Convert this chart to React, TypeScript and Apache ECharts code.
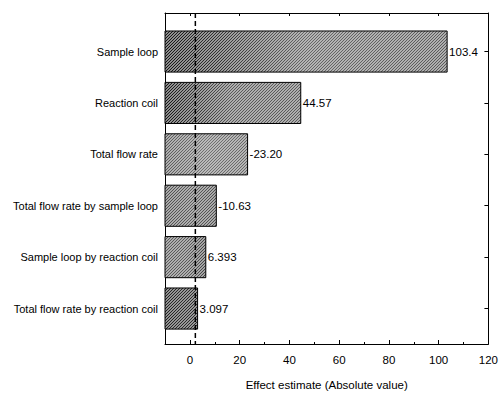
import React, { useEffect, useRef } from "react";
import * as echarts from "echarts";

const categories = [
  "Sample loop",
  "Reaction coil",
  "Total flow rate",
  "Total flow rate by sample loop",
  "Sample loop by reaction coil",
  "Total flow rate by reaction coil",
];
const effects = [103.4, 44.57, -23.2, -10.63, 6.393, 3.097];
const effectLabels = ["103.4", "44.57", "-23.20", "-10.63", "6.393", "3.097"];
const xTicks = [0, 20, 40, 60, 80, 100, 120];
const xMinorTicks = [10, 30, 50, 70, 90, 110];
const criticalValue = 2.2;
const xMin = -10;
const xMax = 120;

// style only: white overlay alpha at left, middle, right of each bar
const barTones = [
  [0.0, 0.35, 0.3],
  [0.0, 0.3, 0.3],
  [0.3, 0.4, 0.35],
  [0.25, 0.3, 0.25],
  [0.3, 0.3, 0.2],
  [0.05, 0.1, 0.1],
];

const FONT = '"Liberation Sans", Arial, sans-serif';

function makeHatch(bg: string, fg: string) {
  const s = 3;
  const c = document.createElement("canvas");
  c.width = s;
  c.height = s;
  const ctx = c.getContext("2d")!;
  ctx.fillStyle = bg;
  ctx.fillRect(0, 0, s, s);
  ctx.fillStyle = fg;
  for (let x = 0; x < s; x++)
    for (let y = 0; y < s; y++) if ((x + y) % s === s - 1) ctx.fillRect(x, y, 1, 1);
  return { image: c.toDataURL(), repeat: "repeat", imageWidth: s, imageHeight: s } as any;
}

export default function App() {
  const ref = useRef<HTMLDivElement>(null);
  useEffect(() => {
    const chart = echarts.init(ref.current!, undefined, { renderer: "svg" });
    const hatch = makeHatch("#8c8c8c", "#141414");
    const yPos = categories.map((_, i) => i + 1);
    const ticksY = { customValues: yPos };
    const option: any = {
      animation: false,
      backgroundColor: "#fff",
      textStyle: { fontFamily: FONT },
      grid: { left: 165, right: 9, top: 13, bottom: 39, containLabel: false },
      xAxis: [
        {
          type: "value",
          position: "bottom",
          min: xMin,
          max: xMax,
          splitLine: { show: false },
          axisLine: { show: true, onZero: false, lineStyle: { color: "#000", width: 1 } },
          axisTick: { show: true, inside: true, length: 4, customValues: xTicks, lineStyle: { color: "#000" } },
          axisLabel: {
            customValues: xTicks,
            color: "#000",
            fontSize: 11.5,
            fontFamily: FONT,
            margin: 10,
            showMaxLabel: true,
          },
          name: "Effect estimate (Absolute value)",
          nameLocation: "middle",
          nameGap: 35,
          nameTextStyle: { color: "#000", fontSize: 11.5, fontFamily: FONT },
        },
        {
          type: "value",
          position: "top",
          min: xMin,
          max: xMax,
          splitLine: { show: false },
          axisLine: { show: true, onZero: false, lineStyle: { color: "#000", width: 1 } },
          axisTick: { show: true, inside: true, length: 3, customValues: xTicks, lineStyle: { color: "#000" } },
          axisLabel: { show: false },
        },
        {
          type: "value",
          position: "bottom",
          min: xMin,
          max: xMax,
          splitLine: { show: false },
          axisLine: { show: false, onZero: false },
          axisTick: { show: true, inside: true, length: 2, customValues: xMinorTicks, lineStyle: { color: "#000" } },
          axisLabel: { show: false },
        },
      ],
      yAxis: [
        {
          type: "value",
          position: "left",
          inverse: true,
          min: 0.25,
          max: 6.69,
          splitLine: { show: false },
          axisLine: { show: true, onZero: false, lineStyle: { color: "#000", width: 1 } },
          axisTick: { show: true, inside: true, length: 3, ...ticksY, lineStyle: { color: "#000" } },
          axisLabel: {
            customValues: yPos,
            formatter: (v: number) => categories[Math.round(v) - 1] ?? "",
            color: "#000",
            fontSize: 11,
            fontFamily: FONT,
            margin: 7,
          },
        },
        {
          type: "value",
          position: "right",
          inverse: true,
          min: 0.25,
          max: 6.69,
          splitLine: { show: false },
          axisLine: { show: true, onZero: false, lineStyle: { color: "#000", width: 1 } },
          axisTick: { show: true, inside: true, length: 4, ...ticksY, lineStyle: { color: "#000" } },
          axisLabel: { show: false },
        },
      ],
      series: [
        {
          type: "custom",
          xAxisIndex: 0,
          yAxisIndex: 0,
          z: 2,
          data: effects.map((e, i) => [Math.abs(e), i + 1, i]),
          renderItem: (params: any, api: any) => {
            const v = api.value(0);
            const y = api.value(1);
            const idx = api.value(2);
            const start = api.coord([xMin, y]);
            const end = api.coord([v, y]);
            const h = api.size([0, 0.8])[1];
            const shape = { x: start[0], y: start[1] - h / 2, width: end[0] - start[0], height: h };
            const t = barTones[idx];
            const grad = new echarts.graphic.LinearGradient(0, 0, 1, 0, [
              { offset: 0, color: `rgba(255,255,255,${t[0]})` },
              { offset: 0.5, color: `rgba(255,255,255,${t[1]})` },
              { offset: 1, color: `rgba(255,255,255,${t[2]})` },
            ]);
            return {
              type: "group",
              children: [
                { type: "rect", shape, style: { fill: hatch } },
                { type: "rect", shape, style: { fill: grad, stroke: "#000", lineWidth: 1 } },
                {
                  type: "text",
                  x: end[0] + 2,
                  y: end[1],
                  style: {
                    text: effectLabels[idx],
                    fill: "#000",
                    font: `11.5px ${FONT}`,
                    align: "left",
                    verticalAlign: "middle",
                  },
                },
              ],
            };
          },
        },
        {
          type: "line",
          xAxisIndex: 0,
          yAxisIndex: 0,
          z: 5,
          symbol: "none",
          silent: true,
          data: [
            [criticalValue, 0.25],
            [criticalValue, 6.69],
          ],
          lineStyle: { color: "#000", width: 1.5, type: [5, 3] },
        },
      ],
    };
    chart.setOption(option);
    return () => chart.dispose();
  }, []);
  return (
    <div
      ref={ref}
      style={{ position: "fixed", left: 0, top: 0, width: 501, height: 396, background: "#fff" }}
    />
  );
}
